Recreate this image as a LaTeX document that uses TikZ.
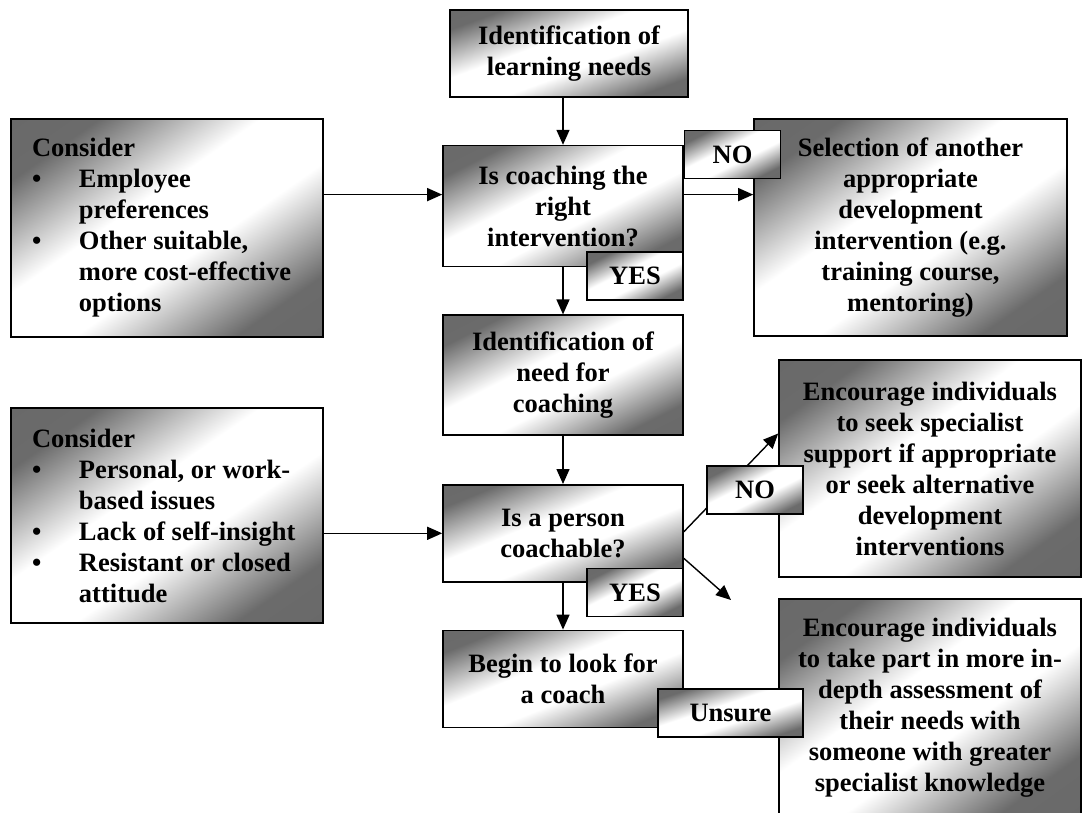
\documentclass[tikz,border=0pt]{standalone}
\usepackage{fontspec}
\setmainfont{Liberation Serif}
\usepackage{tikz}
\usetikzlibrary{arrows.meta}
\usetikzlibrary{calc,positioning}
\pgfdeclarehorizontalshading{boxshade}{100bp}{color(0bp)=(black!60); color(25bp)=(black!58); color(43bp)=(white); color(57bp)=(white); color(75bp)=(black!58); color(100bp)=(black!60)}
\newcommand{\bul}{\makebox[47pt][l]{\textbullet}}
\newcommand{\gap}{\hspace*{47pt}}
\tikzset{%
  >={Triangle[width=13pt,length=15pt]},
  % Specifications for style of nodes:
  base/.style = {rectangle, draw=black, line width=1.6pt,
    shade, shading=boxshade,
    inner sep=4pt, align=center,
    font=\fontsize{26.5pt}{31pt}\selectfont\bfseries},
  % size of a box; the shading runs from corner to corner
  boxsize/.style 2 args = {minimum width=#1pt, minimum height=#2pt,
    /utils/exec={\pgfmathsetmacro\shadeang{-atan(#1/#2)}},
    shading angle/.expanded=\shadeang},
  stepbox/.style = {base},
  outcome/.style = {base},
  consider/.style = {base, align=flush left, text width=270pt, inner xsep=21pt},
  answer/.style = {base, boxsize={96}{48}},
}

\begin{document}
\begin{tikzpicture}[x=1pt, y=-1pt, node distance=47pt, line width=1.4pt]
  \useasboundingbox (0,0) rectangle (1082,812);
  \clip (0,0) rectangle (1082,812);
  % Specification of nodes (position, etc.)
  \node(Need)[stepbox, boxsize={238}{87}] at (569,53.5) {Identification of\\ learning needs};
  \node(Right)[stepbox, boxsize={240}{121}, below=of Need, xshift=-6pt] {Is coaching the\\ right\\ intervention?};
  \node(NeedCoach)[stepbox, boxsize={240}{120}, below=of Right] {Identification of\\ need for\\ coaching};
  \node(Coachable)[stepbox, boxsize={240}{97}, below=48pt of NeedCoach] {Is a person\\ coachable?};
  \node(Begin)[stepbox, boxsize={240}{97}, below=of Coachable] {Begin to look for\\ a coach};
  \node(Select)[outcome, boxsize={313}{217}] at (910.5,227.5) {Selection of another\\ appropriate\\ development\\ intervention (e.g.\\ training course,\\ mentoring)};
  \node(Specialist)[outcome, boxsize={302}{217}] at (930,468.5) {Encourage individuals\\ to seek specialist\\ support if appropriate\\ or seek alternative\\ development\\ interventions};
  \node(Assess)[outcome, boxsize={302}{218}] at (930,708) {Encourage individuals\\ to take part in more in-\\ depth assessment of\\ their needs with\\ someone with greater\\ specialist knowledge};
  \node(ConsiderA)[consider, boxsize={312}{218}] at (167,228) {Consider\\
    \bul Employee\\ \gap preferences\\
    \bul Other suitable,\\ \gap more cost-effective\\ \gap options};
  \node(ConsiderB)[consider, boxsize={312}{215}] at (167,515.5) {Consider\\
    \bul Personal, or work-\\ \gap based issues\\
    \bul Lack of self-insight\\
    \bul Resistant or closed\\ \gap attitude};
  % Connectors
  \coordinate (RightIn) at ([yshift=11.5pt]Right.west);
  \coordinate (RightOut) at ([yshift=11.5pt]Right.east);
  \coordinate (UnsureEnd) at (731,600);
  \draw[->](Need.south -| Right.north) -- (Right.north);
  \draw[->](ConsiderA.east |- RightIn) -- (RightIn);
  \draw[->](RightOut) -- (Select.west |- RightOut);
  \draw[->](Right) -- (NeedCoach);
  \draw[->](NeedCoach) -- (Coachable);
  \draw[->](ConsiderB.east |- Coachable.west) -- (Coachable.west);
  \draw[->](Coachable) -- (Begin);
  \draw[->]([yshift=1.5pt]Coachable.east) -- ([yshift=35pt]Specialist.west);
  \draw[->]([yshift=-25pt]Coachable.east) -- (UnsureEnd);
  % Answers
  \node(NoA)[answer, anchor=north west] at ([yshift=15pt]Right.north east) {NO};
  \node(YesA)[answer, anchor=north east] at ([yshift=16pt]Right.south east) {YES};
  \node(NoB)[answer] at (755,490) {NO};
  \node(YesB)[answer, anchor=north east] at ([yshift=15pt]Coachable.south east) {YES};
  \node(Unsure)[answer, boxsize={145}{48}] at (730.5,713) {Unsure};
\end{tikzpicture}
\end{document}
